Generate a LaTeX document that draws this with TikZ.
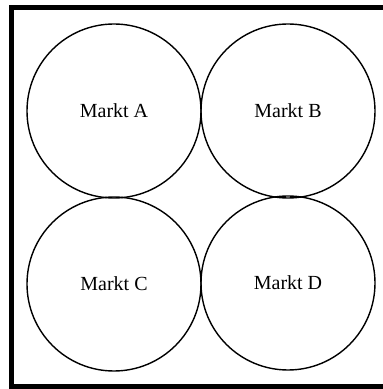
\documentclass[tikz,border=0pt]{standalone}
\usepackage{fontspec}
\setmainfont{Liberation Serif}
\usepackage{tikz}

\tikzset{markt/.style={draw, circle, line width=1.4pt, minimum size=174pt, inner sep=0pt, font=\fontsize{20}{24}\selectfont}}

\begin{document}
\begin{tikzpicture}[x=1pt, y=1pt]
                \useasboundingbox (0, 0) rectangle (383, 389);
                \draw[line width=5pt] (11.5, 381) rectangle (386, 2.5);
                \node[markt] (marktA) at (114, 278) {Markt A};
                \node[markt] (marktB) at (288, 278) {Markt B};
                \node[markt] (marktC) at (114, 105) {Markt C};
                \node[markt] (marktD) at (288, 106) {Markt D};
            \end{tikzpicture}
\end{document}
